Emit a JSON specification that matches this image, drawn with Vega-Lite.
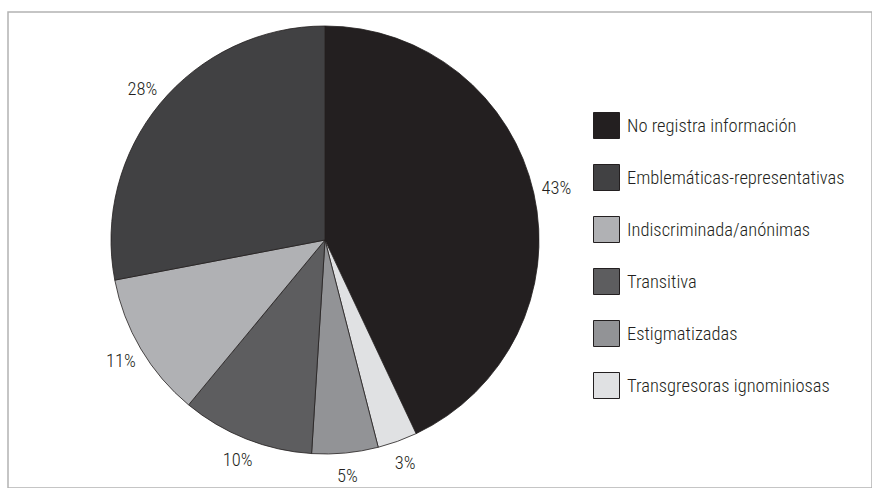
{
  "$schema": "https://vega.github.io/schema/vega-lite/v6.json",
  "width": 864,
  "height": 476,
  "padding": {"left": 8, "top": 12, "right": 0, "bottom": 0},
  "autosize": {"type": "none"},
  "background": "white",
  "view": {"stroke": "#b3b3b3", "strokeWidth": 1.5},
  "config": {
    "view": {"stroke": "#b3b3b3", "strokeWidth": 1.5},
    "font": "Roboto Condensed, Liberation Sans"
  },
  "data": {
    "values": [
      {"categoria": "No registra información", "porcentaje": 43, "orden": 1, "etiqueta": "43%"},
      {"categoria": "Transgresoras ignominiosas", "porcentaje": 3, "orden": 2, "etiqueta": "3%"},
      {"categoria": "Estigmatizadas", "porcentaje": 5, "orden": 3, "etiqueta": "5%"},
      {"categoria": "Transitiva", "porcentaje": 10, "orden": 4, "etiqueta": "10%"},
      {"categoria": "Indiscriminada/anónimas", "porcentaje": 11, "orden": 5, "etiqueta": "11%"},
      {"categoria": "Emblemáticas-representativas", "porcentaje": 28, "orden": 6, "etiqueta": "28%"}
    ]
  },
  "encoding": {
    "theta": {"field": "porcentaje", "type": "quantitative", "stack": true},
    "order": {"field": "orden", "type": "quantitative", "sort": "ascending"}
  },
  "layer": [
    {
      "mark": {"type": "arc", "outerRadius": 214, "x": 317, "y": 228, "stroke": "#231f20", "strokeWidth": 0.8},
      "encoding": {
        "color": {
          "field": "categoria",
          "type": "nominal",
          "scale": {
            "domain": ["No registra información", "Emblemáticas-representativas", "Indiscriminada/anónimas", "Transitiva", "Estigmatizadas", "Transgresoras ignominiosas"],
            "range": ["#231f20", "#414143", "#b0b1b4", "#5d5d5f", "#929396", "#e0e1e3"]
          },
          "legend": {
            "title": null,
            "orient": "none",
            "legendX": 585,
            "legendY": 100,
            "padding": 0,
            "symbolType": "square",
            "symbolSize": 676,
            "symbolStrokeColor": "#231f20",
            "symbolStrokeWidth": 1,
            "symbolOpacity": 1,
            "rowPadding": 21,
            "labelOffset": 7,
            "labelFont": "Roboto Condensed, Liberation Sans",
            "labelFontSize": 18.5,
            "labelFontWeight": 300,
            "labelColor": "#231f20",
            "labelLimit": 400
          }
        }
      }
    },
    {
      "mark": {"type": "text", "radius": 237, "x": 317, "y": 228, "font": "Roboto Condensed, Liberation Sans", "fontSize": 18.5, "fontWeight": 300, "color": "#231f20", "align": "center", "baseline": "middle"},
      "encoding": {
        "text": {"field": "etiqueta", "type": "nominal"}
      }
    }
  ]
}
